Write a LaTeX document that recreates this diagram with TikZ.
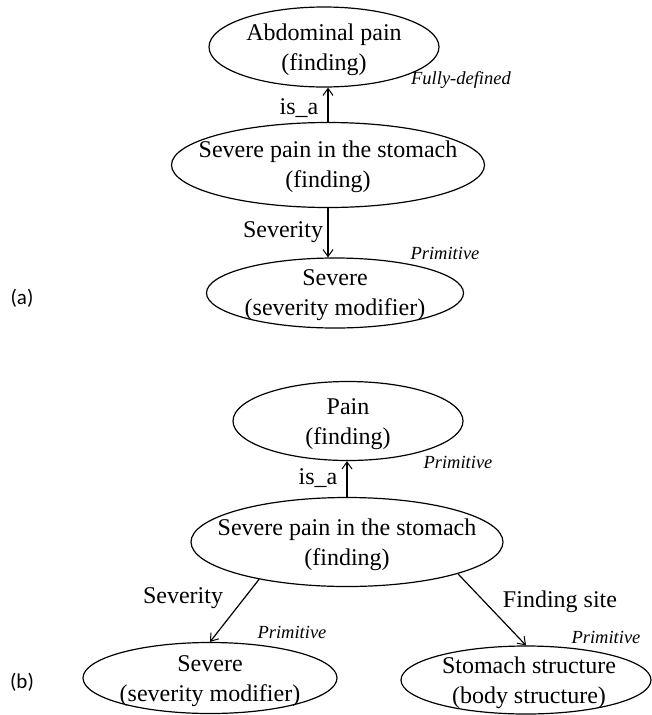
\documentclass[tikz,border=0pt]{standalone}
\usepackage{fontspec}
\setmainfont{Liberation Serif}
\newfontfamily\tnr{Liberation Serif}
\newfontfamily\carlito{Carlito}
\usetikzlibrary{shapes.geometric,arrows.meta}
\tikzset{
  concept/.style={draw, ellipse, line width=1.2pt, inner sep=0pt},
  ctext/.style={align=center, font=\tnr\fontsize{24}{29.5}\selectfont, inner sep=0pt},
  rel/.style={font=\tnr\fontsize{24}{28}\selectfont, inner sep=0pt},
  defn/.style={font=\tnr\itshape\fontsize{18.5}{20}\selectfont, inner sep=0pt},
  panel/.style={font=\carlito\fontsize{21}{24}\selectfont, inner sep=0pt},
  link/.style={-{Straight Barb[length=7pt,width=10pt,line width=1pt]}, line width=1.2pt}
}
\begin{document}
\begin{tikzpicture}[x=1pt,y=-1pt]
\path[use as bounding box, fill=white] (0,0) rectangle (651,715);

% ---------- (a) ----------
\node[concept, minimum width=230pt, minimum height=80pt] (a1) at (324,47) {};
\node[ctext] (a1t) at (324,50) {Abdominal pain\\(finding)};
\node[concept, minimum width=313pt, minimum height=85pt] (a2) at (328,165) {};
\node[ctext] (a2t) at (328,167) {Severe pain in the stomach\\(finding)};
\node[concept, minimum width=257pt, minimum height=70pt] (a3) at (335,293) {};
\node[ctext] (a3t) at (335,295) {Severe\\(severity modifier)};

\draw[link] (a2.north) -- (a2.north |- a1.south);
\draw[link] (a2.south) -- (a2.south |- a3.north);

\node[rel] (a12) at (299,108) {is\_a};
\node[rel] (a23) at (283,232) {Severity};
\node[defn] (afd) at (461,80) {Fully-defined};
\node[defn] (apr) at (445,253) {Primitive};
\node[panel] (pa) at (22,298) {(a)};

% ---------- (b) ----------
\node[concept, minimum width=230pt, minimum height=79pt] (b1) at (348,421) {};
\node[ctext] (b1t) at (348,424) {Pain\\(finding)};
\node[concept, minimum width=312pt, minimum height=89pt] (b2) at (347,542) {};
\node[ctext] (b2t) at (347,545) {Severe pain in the stomach\\(finding)};
\node[concept, minimum width=254pt, minimum height=71pt] (b3) at (210,678) {};
\node[ctext] (b3t) at (210,681) {Severe\\(severity modifier)};
\node[concept, minimum width=250pt, minimum height=68pt] (b4) at (526,680) {};
\node[ctext] (b4t) at (529,683) {Stomach structure\\(body structure)};

\draw[link] (b2.north) -- (b2.north |- b1.south);
\draw[link] (b2.203) -- (b3.north);
\draw[link] (b2.344) -- (b4.north);

\node[rel] (b12) at (318,478) {is\_a};
\node[rel] (b23) at (183,598) {Severity};
\node[rel] (b24) at (560,602) {Finding site};
\node[defn] (bp1) at (458,462) {Primitive};
\node[defn] (bp3) at (292,632) {Primitive};
\node[defn] (bp4) at (606,637) {Primitive};
\node[panel] (pb) at (22,682) {(b)};
\end{tikzpicture}
\end{document}
